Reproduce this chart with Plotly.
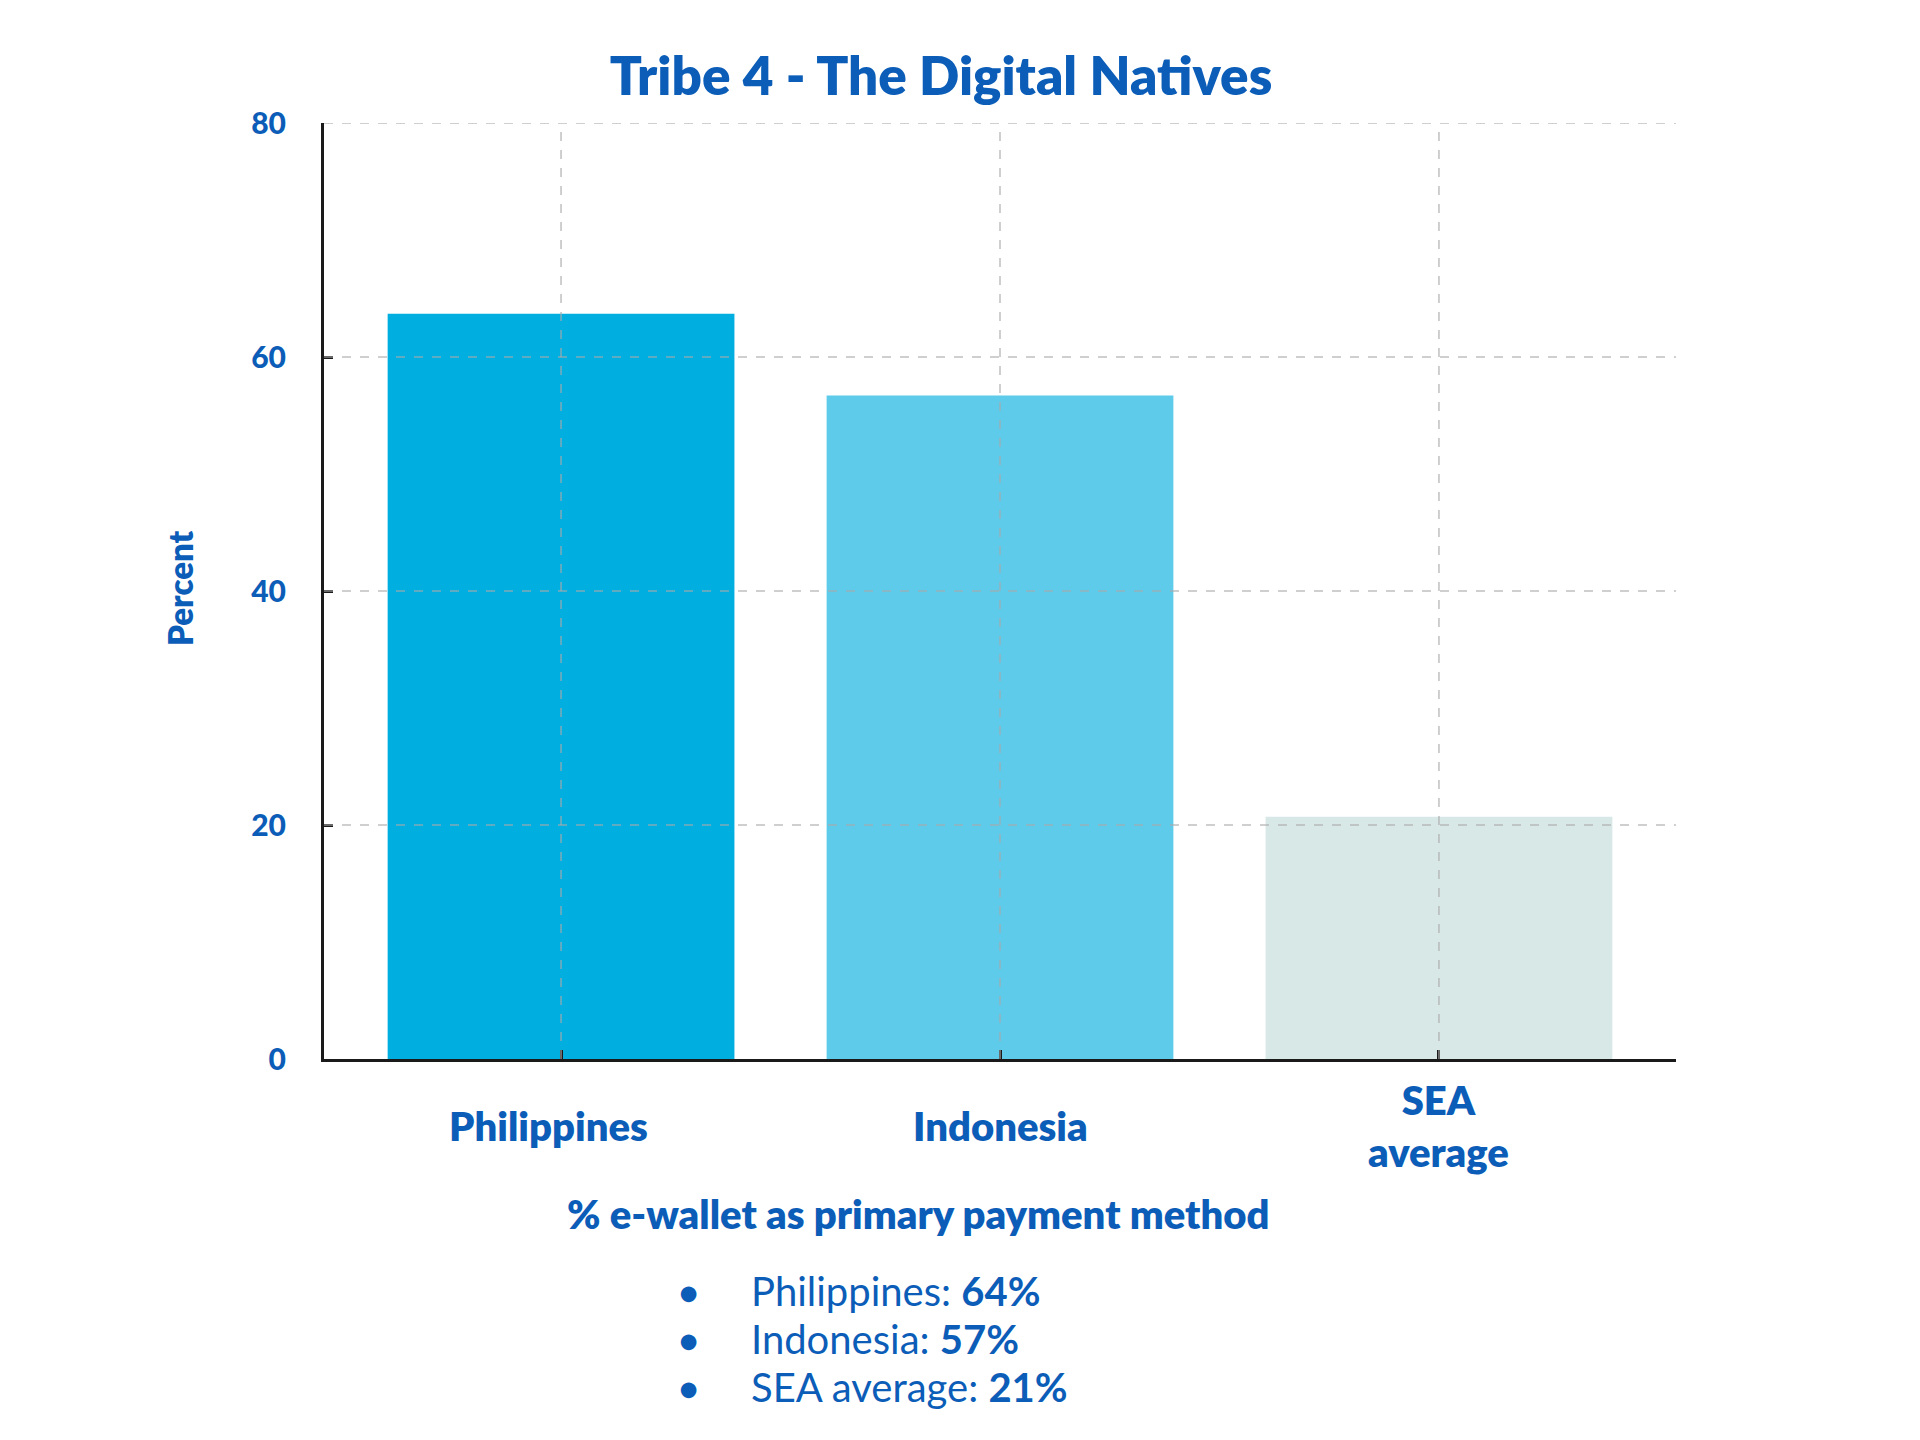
import plotly.graph_objects as go

categories = ["Philippines", "Indonesia", "SEA average"]
tick_labels = ["Philippines", "Indonesia", "SEA<br>average"]
values = [63.7, 56.7, 20.7]
bar_colors = ["#00AEE0", "#5ECBEA", "#D8E8E6"]
y_ticks = [0, 20, 40, 60, 80]

BLUE = "#0B5DB8"
FONT = "Lato"
HEAVY = 800

# page body has an 8px margin; compensate so the figure sits where the reference does
OFF = 8
L, R, T, B, W, H = 324 - OFF, 244 + OFF, 123 - OFF, 381 + OFF, 1920, 1440
pw, ph = W - L - R, H - T - B


def px_x(x):
    return (x - OFF - L) / pw


def px_y(y):
    return (H - B - (y - OFF)) / ph


fig = go.Figure()
fig.add_trace(go.Bar(
    x=categories, y=values, marker=dict(color=bar_colors, line=dict(width=0)),
    width=0.79, showlegend=False, hoverinfo="skip",
))

shapes = []
for t in y_ticks[1:]:
    shapes.append(dict(type="line", xref="paper", yref="y", x0=0, x1=1, y0=t, y1=t,
                       line=dict(color="rgba(170,170,170,0.75)", width=1.5, dash="dash"), layer="above"))
for c in categories:
    shapes.append(dict(type="line", xref="x", yref="paper", x0=c, x1=c, y0=0, y1=1,
                       line=dict(color="rgba(170,170,170,0.75)", width=1.5, dash="dash"), layer="above"))
fig.update_layout(shapes=shapes)

label_shift = [-13, 0, 0]
annotations = []
for c, lab, sh in zip(categories, tick_labels, label_shift):
    annotations.append(dict(x=c, xref="x", y=px_y(1126), yref="paper", text=lab, xshift=sh,
                            showarrow=False, xanchor="center", yanchor="middle",
                            font=dict(family=FONT, size=40, color=BLUE, weight=HEAVY)))
annotations.append(dict(x=px_x(918), xref="paper", y=px_y(1214), yref="paper",
                        text="% e-wallet as primary payment method", showarrow=False,
                        xanchor="center", yanchor="middle",
                        font=dict(family=FONT, size=40, color=BLUE, weight=HEAVY)))
annotations.append(dict(x=px_x(180), xref="paper", y=px_y(588), yref="paper",
                        text="Percent", showarrow=False, textangle=-90,
                        xanchor="center", yanchor="middle",
                        font=dict(family=FONT, size=33, color=BLUE, weight=HEAVY)))
for i, (c, v) in enumerate(zip(categories, values)):
    ypix = 1291 + i * 48
    annotations.append(dict(x=px_x(688), xref="paper", y=px_y(ypix), yref="paper", text="●",
                            showarrow=False, xanchor="center", yanchor="middle",
                            font=dict(family=FONT, size=32, color=BLUE)))
    annotations.append(dict(x=px_x(749), xref="paper", y=px_y(ypix), yref="paper",
                            text=f"{c}: <b>{round(v)}%</b>",
                            showarrow=False, xanchor="left", yanchor="middle",
                            font=dict(family=FONT, size=40, color=BLUE)))

fig.update_layout(
    annotations=annotations,
    width=W, height=H,
    margin=dict(l=L, r=R, t=T, b=B, pad=0),
    paper_bgcolor="white", plot_bgcolor="white",
    title=dict(text="Tribe 4 - The Digital Natives", x=(941 - OFF) / W, xanchor="center",
               y=1 - (76 - OFF) / H, yanchor="middle",
               font=dict(family=FONT, size=53, color=BLUE, weight=HEAVY)),
)
fig.update_xaxes(
    range=[-0.54, 2.54], showticklabels=False, showgrid=False, zeroline=False,
    showline=True, linecolor="#1a1a1a", linewidth=3,
    ticks="inside", ticklen=9, tickwidth=3, tickcolor="#1a1a1a",
)
fig.update_yaxes(
    range=[0, 80], tickvals=y_ticks,
    showgrid=False, zeroline=False,
    showline=True, linecolor="#1a1a1a", linewidth=3,
    ticks="inside", ticklen=9, tickwidth=3, tickcolor="#1a1a1a",
    tickfont=dict(family=FONT, size=30, color=BLUE, weight=900), ticklabelstandoff=29,
)

fig.write_html("out.html")
